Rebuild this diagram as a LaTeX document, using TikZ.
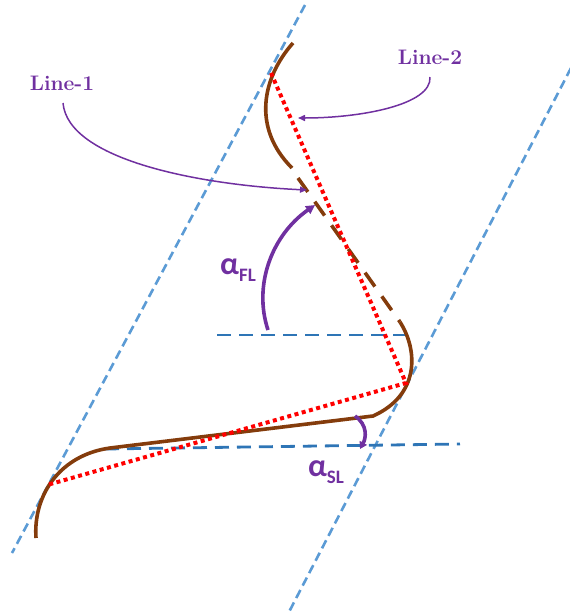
\documentclass[tikz,border=0pt]{standalone}
\usepackage{fontspec}
\newfontfamily\carl{Carlito}
\usetikzlibrary{arrows.meta}
\definecolor{brn}{HTML}{843C0C}
\definecolor{purp}{HTML}{7030A0}
\definecolor{lblue}{HTML}{5B9BD5}
\definecolor{dblue}{HTML}{2E75B6}
\begin{document}
\begin{tikzpicture}[x=1pt,y=-1pt,
  guide/.style={lblue,line width=2.6pt,dash pattern=on 9pt off 5pt},
  level/.style={dblue,line width=2.8pt,dash pattern=on 14pt off 8pt},
  chord/.style={red,line width=4pt,dash pattern=on 4pt off 3.5pt},
  profile/.style={brn,line width=3.6pt},
  angarrow/.style={purp,line width=3.6pt,-{Triangle[length=9pt,width=9pt]}},
  callout/.style={purp,line width=1.5pt,-{Triangle[length=7pt,width=6pt]}},
  lbl/.style={purp,font=\fontsize{21}{24}\selectfont\bfseries,inner sep=0pt},
  anglbl/.style={purp,inner sep=0pt}
]
\useasboundingbox (0,0) rectangle (570,614);
% guide lines
\coordinate (g1a) at (305,5);
\coordinate (g1b) at (12,553);
\coordinate (g2a) at (571,68);
\coordinate (g2b) at (289,612);
\draw[guide] (g1a) -- (g1b);
\draw[guide] (g2a) -- (g2b);
% horizontal reference lines
\coordinate (h1a) at (217,335);
\coordinate (h1b) at (410,335);
\coordinate (h2a) at (105,449);
\coordinate (h2b) at (460,444);
\draw[level] (h1a) -- (h1b);
\draw[level] (h2a) -- (h2b);
% brown profile
\coordinate (p0) at (293,43);
\coordinate (p1) at (292,168);
\coordinate (p2) at (298,178);
\coordinate (p3) at (400,322);
\coordinate (p4) at (373,416);
\coordinate (p5) at (110,448);
\coordinate (p6) at (36,538);
\draw[profile] (p0) .. controls (262,78) and (252,128) .. (p1);
\draw[profile,dash pattern=on 17pt off 12pt] (p2) -- (p3);
\draw[profile] (p3) .. controls (418,350) and (420,395) .. (p4) -- (p5)
  .. controls (60,455) and (33,495) .. (p6);
% red chords
\coordinate (r0) at (271,73);
\coordinate (r1) at (406,383);
\coordinate (r2) at (47,485);
\draw[chord] (r0) -- (r1) -- (r2);
% angle arrows
\coordinate (a1s) at (268,330);
\coordinate (a1e) at (315,205);
\draw[angarrow] (a1s) .. controls (253,285) and (272,235) .. (a1e);
\coordinate (a2s) at (355,416);
\coordinate (a2e) at (360,449);
\draw[angarrow,-{Triangle[length=7pt,width=8pt]}] (a2s) .. controls (368,425) and (366,438) .. (a2e);
% angle labels
\node[anglbl] (afl) at (238,270) {\carl\bfseries\fontsize{32}{32}\selectfont α\raisebox{-0.22em}{\fontsize{19}{19}\selectfont FL}};
\node[anglbl] (asl) at (326,472) {\carl\bfseries\fontsize{32}{32}\selectfont α\raisebox{-0.22em}{\fontsize{19}{19}\selectfont SL}};
% callouts
\node[lbl] (l1) at (62,83) {Line-1};
\node[lbl] (l2) at (430,57) {Line-2};
\coordinate (t1) at (307,190);
\coordinate (t2) at (298,118);
\draw[callout] (63,103) .. controls (68,160) and (200,185) .. (t1);
\draw[callout] (430,77) .. controls (432,105) and (360,118) .. (t2);
\end{tikzpicture}
\end{document}
